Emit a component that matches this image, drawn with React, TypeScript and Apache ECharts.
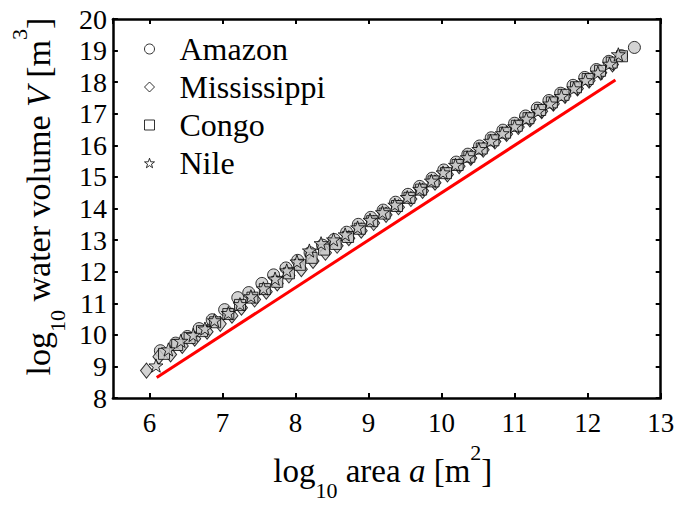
import React, { useEffect, useRef } from "react";
import * as echarts from "echarts";

const seriesNames = ["Amazon", "Mississippi", "Congo", "Nile"];

const amazon: number[][] = [
  [6.15, 9.5], [6.36, 9.74], [6.52, 9.95], [6.68, 10.2], [6.86, 10.48], [7.03, 10.8],
  [7.21, 11.18], [7.36, 11.34], [7.54, 11.63], [7.7, 11.9], [7.87, 12.12], [8.03, 12.36],
  [8.2, 12.6], [8.37, 12.84], [8.53, 13.02], [8.7, 13.25], [8.86, 13.5], [9.03, 13.72],
  [9.2, 13.95], [9.37, 14.2], [9.54, 14.45], [9.7, 14.7], [9.87, 14.96], [10.03, 15.22],
  [10.2, 15.47], [10.36, 15.72], [10.52, 15.98], [10.68, 16.24], [10.84, 16.48], [11.0, 16.7],
  [11.15, 16.93], [11.31, 17.18], [11.47, 17.42], [11.63, 17.65], [11.8, 17.9], [11.96, 18.15],
  [12.12, 18.4], [12.29, 18.66], [12.46, 18.84], [12.64, 19.1],
];

const mississippi: number[][] = [
  [5.96, 8.87], [6.13, 9.31], [6.29, 9.38], [6.45, 9.65], [6.62, 9.88], [6.79, 10.1],
  [6.97, 10.35], [7.13, 10.61], [7.26, 10.86], [7.44, 11.12], [7.6, 11.37], [7.75, 11.63],
  [7.91, 11.88], [8.08, 12.08], [8.24, 12.34], [8.41, 12.6], [8.57, 12.82], [8.73, 13.06],
  [8.9, 13.3], [9.07, 13.54], [9.24, 13.8], [9.41, 14.04], [9.58, 14.3], [9.74, 14.56],
  [9.91, 14.82], [10.08, 15.08], [10.24, 15.34], [10.4, 15.6], [10.57, 15.86], [10.73, 16.12],
  [10.89, 16.36], [11.05, 16.58], [11.21, 16.82], [11.37, 17.08], [11.53, 17.32], [11.69, 17.56],
  [11.86, 17.8], [12.02, 18.05], [12.18, 18.3], [12.34, 18.56],
];

const congo: number[][] = [
  [6.2, 9.4], [6.38, 9.68], [6.55, 9.9], [6.72, 10.12], [6.9, 10.4], [7.08, 10.66],
  [7.24, 10.95], [7.41, 11.18], [7.58, 11.45], [7.75, 11.68], [7.91, 11.95], [8.06, 12.22],
  [8.22, 12.44], [8.39, 12.7], [8.55, 12.88], [8.72, 13.1], [8.88, 13.36], [9.05, 13.6],
  [9.22, 13.84], [9.39, 14.08], [9.56, 14.34], [9.72, 14.6], [9.89, 14.86], [10.06, 15.12],
  [10.22, 15.38], [10.38, 15.64], [10.55, 15.9], [10.71, 16.16], [10.87, 16.4], [11.03, 16.62],
  [11.19, 16.86], [11.35, 17.12], [11.51, 17.36], [11.67, 17.6], [11.84, 17.84], [12.0, 18.1],
  [12.17, 18.36], [12.33, 18.62], [12.47, 18.82],
];

const nile: number[][] = [
  [6.09, 9.03], [6.26, 9.54], [6.43, 9.81], [6.6, 10.0], [6.76, 10.2], [6.89, 10.46],
  [7.08, 10.69], [7.24, 10.97], [7.39, 11.22], [7.56, 11.47], [7.72, 11.78], [7.88, 12.04],
  [8.02, 12.32], [8.19, 12.67], [8.35, 12.9], [8.52, 13.02], [8.68, 13.18], [8.85, 13.4],
  [9.02, 13.64], [9.19, 13.88], [9.36, 14.12], [9.53, 14.36], [9.7, 14.62], [9.86, 14.88],
  [10.02, 15.14], [10.19, 15.38], [10.35, 15.62], [10.51, 15.88], [10.67, 16.14], [10.83, 16.38],
  [11.0, 16.6], [11.16, 16.84], [11.32, 17.08], [11.48, 17.32], [11.64, 17.56], [11.81, 17.8],
  [11.97, 18.06], [12.14, 18.3], [12.3, 18.58], [12.42, 18.88],
];

const fitLineX = [6.1, 12.38];
const fitLineY = [8.65, 18.07];

const xRange = [5.5, 13];
const yRange = [8, 20];

const STAR =
  "path://M50 0 L61.76 33.82 L97.55 34.55 L69.02 56.18 L79.39 90.45 L50 70 L20.61 90.45 L30.98 56.18 L2.45 34.55 L38.24 33.82 Z";

const FONT = "'Liberation Serif', 'Times New Roman', serif";

export default function App() {
  const ref = useRef<HTMLDivElement>(null);

  useEffect(() => {
    if (!ref.current) return;
    const chart = echarts.init(ref.current, undefined, { renderer: "svg" });

    const markerStyle = { color: "#c8c8c8", borderColor: "#000000", borderWidth: 1 };
    const legendStyle = { color: "#ffffff", borderColor: "#000000", borderWidth: 1 };
    const symbols = ["circle", "diamond", "rect", STAR];
    const sizes: any[] = [12, [12, 15], 11, 14];
    const datasets = [amazon, mississippi, congo, nile];

    const axisLine = { show: true, lineStyle: { color: "#000", width: 2.5 } };
    const axisTick = { show: true, inside: true, length: 5, lineStyle: { color: "#000", width: 2 } };

    const makeRich = (fs: number) => ({
      n: { fontSize: fs, fontFamily: FONT, color: "#000", lineHeight: 60, verticalAlign: "middle" },
      i: { fontSize: fs, fontFamily: FONT, fontStyle: "italic", color: "#000", lineHeight: 60, verticalAlign: "middle" },
      s: { fontSize: 22, fontFamily: FONT, color: "#000", lineHeight: 25, verticalAlign: "bottom" },
      p: { fontSize: 22, fontFamily: FONT, color: "#000", lineHeight: 25, verticalAlign: "top" },
    });

    chart.setOption({
      animation: false,
      backgroundColor: "#ffffff",
      textStyle: { fontFamily: FONT },
      grid: { left: 108.5, right: 29.3, top: 19, bottom: 94, containLabel: false },
      legend: {
        orient: "vertical",
        left: 139,
        top: 28,
        itemWidth: 10,
        itemHeight: 10,
        itemGap: 6,
        symbolKeepAspect: true,
        selectedMode: false,
        itemStyle: legendStyle,
        textStyle: { fontFamily: FONT, fontSize: 32, color: "#000", lineHeight: 32, padding: [0, 0, 0, 20] },
        data: seriesNames.map((name, k) => ({
          name,
          icon: symbols[k],
          itemStyle: legendStyle,
        })),
      },
      xAxis: [
        {
          type: "value",
          min: xRange[0],
          max: xRange[1],
          splitNumber: 8,
          position: "bottom",
          axisLine,
          axisTick,
          splitLine: { show: false },
          axisLabel: {
            showMinLabel: false,
            margin: 11,
            fontFamily: FONT,
            fontSize: 27,
            color: "#000",
          },
          name: "{n|log}{s|10}{n| area }{i|a}{n| [m}{p|2}{n|]}",
          nameLocation: "middle",
          nameGap: 35,
          nameTextStyle: { rich: makeRich(33), padding: [0, 8, 0, 0] },
        },
        {
          type: "value",
          min: xRange[0],
          max: xRange[1],
          splitNumber: 8,
          position: "top",
          axisLine,
          axisTick,
          splitLine: { show: false },
          axisLabel: { show: false },
        },
      ],
      yAxis: [
        {
          type: "value",
          min: yRange[0],
          max: yRange[1],
          interval: 1,
          position: "left",
          axisLine,
          axisTick,
          splitLine: { show: false },
          axisLabel: { margin: 6, fontFamily: FONT, fontSize: 28, color: "#000" },
          name: "{n|log}{s|10}{n| water volume }{i|V}{n| [m}{p|3}{n|]}",
          nameLocation: "middle",
          nameGap: 40,
          nameTextStyle: { rich: makeRich(34), padding: [0, 0, 0, 24] },
        },
        {
          type: "value",
          min: yRange[0],
          max: yRange[1],
          interval: 1,
          position: "right",
          axisLine,
          axisTick,
          splitLine: { show: false },
          axisLabel: { show: false },
        },
      ],
      series: [
        {
          type: "line",
          data: fitLineX.map((x, k) => [x, fitLineY[k]]),
          showSymbol: false,
          symbol: "none",
          lineStyle: { color: "#ff0000", width: 3 },
          silent: true,
          z: 1,
        },
        ...seriesNames.map((name, k) => ({
          name,
          type: "scatter",
          data: datasets[k],
          symbol: symbols[k],
          symbolSize: sizes[k],
          symbolKeepAspect: true,
          itemStyle: markerStyle,
          z: 2 + k,
        })),
      ],
    });

    return () => chart.dispose();
  }, []);

  return (
    <div
      ref={ref}
      style={{ position: "fixed", left: 0, top: 0, width: 690, height: 506, background: "#fff" }}
    />
  );
}
